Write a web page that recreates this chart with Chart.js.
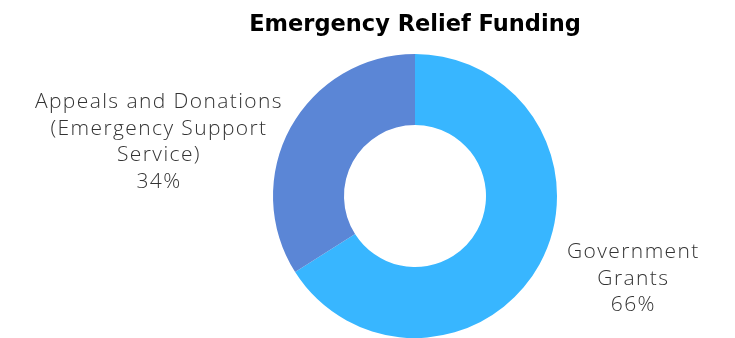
<!DOCTYPE html>
<html>
<head>
<meta charset="utf-8">
<script src="https://cdn.jsdelivr.net/npm/chart.js@4.4.0/dist/chart.umd.min.js"></script>
<style>
  html, body { margin: 0; padding: 0; background: #fff; overflow: hidden; }
  #wrap { width: 735px; height: 338px; position: relative; }
</style>
</head>
<body>
<div id="wrap"><canvas id="myChart"></canvas></div>
<script>
// data
const categories = [['Government', 'Grants'], ['Appeals and Donations', '(Emergency Support', 'Service)']];
const shares = [66, 34];
const colours = ['#38b6ff', '#5b86d6'];
const chartTitle = 'Emergency Relief Funding';

const labelFont = '300 21px "Open Sans", sans-serif';

// draws the outside labels next to each slice
const outsideLabels = {
    id: 'outsideLabels',
    afterDatasetsDraw(chart) {
        const ctx = chart.ctx;
        const meta = chart.getDatasetMeta(0);
        const total = shares.reduce((a, b) => a + b, 0);
        ctx.save();
        ctx.font = labelFont;
        ctx.letterSpacing = '1.4px';
        ctx.fillStyle = '#333';
        ctx.textAlign = 'center';
        ctx.textBaseline = 'middle';
        meta.data.forEach((arc, i) => {
            const lines = categories[i].concat([Math.round(shares[i] / total * 100) + '%']);
            const mid = (arc.startAngle + arc.endAngle) / 2;
            const r = arc.outerRadius;
            const dx = Math.cos(mid), dy = Math.sin(mid);
            const w = Math.max(...lines.map(l => ctx.measureText(l).width));
            const lh = 26.5;
            const side = dx >= 0 ? 1 : -1;
            const cx = arc.x + side * (r + w / 2) + 10;
            const cy = arc.y + dy * r + 14.5;
            const top = cy - (lines.length - 1) * lh / 2;
            lines.forEach((l, j) => ctx.fillText(l, cx, top + j * lh));
        });
        ctx.restore();
    }
};

function chartIt() {
    const ctx = document.getElementById('myChart').getContext('2d');
    new Chart(ctx, {
        type: 'doughnut',
        data: {
            labels: categories,
            datasets: [{
                data: shares,
                backgroundColor: colours,
                borderWidth: 0,
                hoverOffset: 0
            }]
        },
        options: {
            responsive: true,
            maintainAspectRatio: false,
            animation: false,
            cutout: '50%',
            layout: { padding: { left: 95, right: 0, top: 0, bottom: 0 } },
            plugins: {
                legend: { display: false },
                tooltip: { enabled: false },
                title: {
                    display: true,
                    text: chartTitle,
                    fullSize: false,
                    color: '#000',
                    font: { family: '"DejaVu Sans", sans-serif', size: 22.5, weight: 'bold' },
                    padding: { top: 12, bottom: 15 }
                }
            }
        },
        plugins: [outsideLabels]
    });
}
chartIt();
</script>
</body>
</html>
